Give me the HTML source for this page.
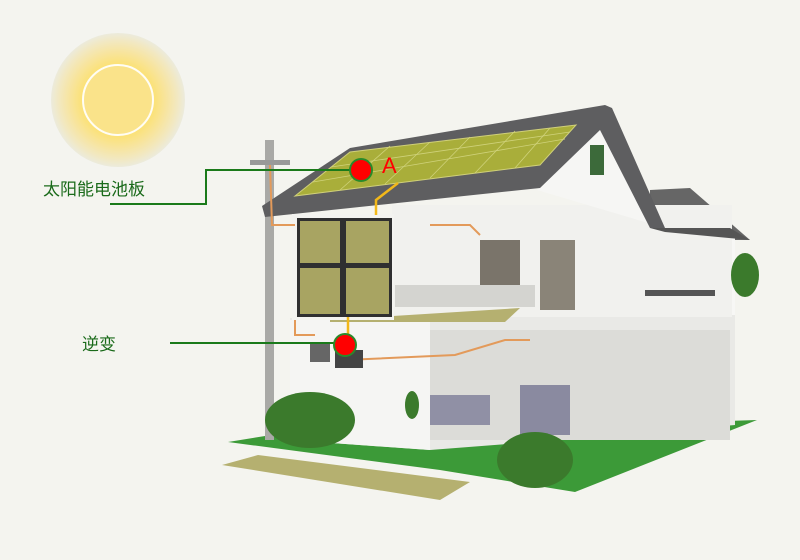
<!DOCTYPE html>
<html><head><meta charset="utf-8"><style>
html,body{margin:0;padding:0;background:#f4f4ef;}
svg{display:block;}
text{font-family:"Liberation Sans","Noto Sans CJK SC",sans-serif;}
</style></head><body>
<svg width="800" height="560" viewBox="0 0 800 560" xmlns="http://www.w3.org/2000/svg">
<defs>
<radialGradient id="sun" cx="0.5" cy="0.5" r="0.5">
<stop offset="0" stop-color="#fbe27a"/><stop offset="0.55" stop-color="#fbe27a"/>
<stop offset="0.7" stop-color="#f8e49a"/><stop offset="0.88" stop-color="#f2e8c0"/><stop offset="1" stop-color="#ecebdc"/>
</radialGradient>
</defs>
<rect width="800" height="560" fill="#f4f4ef"/>
<circle cx="118" cy="100" r="67" fill="url(#sun)"/>
<circle cx="118" cy="100" r="35" fill="#fae38a" stroke="#fffdf4" stroke-width="2"/>
<polygon points="228,442 265,436 757,420 575,492 440,470" fill="#3c9a38"/>
<polygon points="222,465 258,455 470,482 440,500" fill="#b5b070"/>
<rect x="265" y="140" width="9" height="300" fill="#a9a9a6"/>
<rect x="250" y="160" width="40" height="5" fill="#999"/>
<polygon points="650,190 690,188 750,240 650,240" fill="#666"/>
<rect x="650" y="235" width="85" height="80" fill="#f7f7f5"/>
<polygon points="290,318 735,315 735,425 560,440 430,450 290,440" fill="#e9e9e6"/>
<rect x="430" y="330" width="300" height="110" fill="#dcdcd8"/>
<polygon points="290,320 430,320 430,450 290,440" fill="#f5f5f3"/>
<rect x="520" y="385" width="50" height="50" fill="#8a8aa0"/>
<rect x="430" y="395" width="60" height="30" fill="#9090a5"/>
<rect x="392" y="205" width="340" height="112" fill="#f1f1ee"/>
<rect x="480" y="240" width="40" height="50" fill="#7a746a"/>
<rect x="540" y="240" width="35" height="70" fill="#8a8478"/>
<rect x="395" y="285" width="140" height="22" fill="#d4d4d0"/>
<polygon points="330,320 520,308 505,322 330,322" fill="#b5b070"/>
<rect x="645" y="290" width="70" height="6" fill="#555"/>
<polygon points="600,122 537,190 655,225" fill="#f6f6f4"/>
<rect x="590" y="145" width="14" height="30" fill="#3c6a3a"/>
<polygon points="262,206 350,148 605,105 612,108 665,228 650,228 600,130 540,188 265,217" fill="#5e5e60"/>
<polygon points="295,196 350,152 576,125 540,165" fill="#a9ae3a" stroke="#d0d07a" stroke-width="1"/>
<g stroke="#cfd27a" stroke-width="0.8">
<line x1="313" y1="182" x2="565" y2="139"/><line x1="331" y1="167" x2="570" y2="132"/>
<line x1="340" y1="190" x2="390" y2="146"/><line x1="385" y1="184" x2="430" y2="142"/>
<line x1="430" y1="178" x2="470" y2="137"/><line x1="475" y1="173" x2="515" y2="131"/>
<line x1="515" y1="168" x2="550" y2="128"/>
</g>
<polygon points="650,228 730,228 750,240 665,232" fill="#555"/>
<rect x="292" y="214" width="102" height="106" fill="#f3f3f0"/>
<rect x="297" y="218" width="95" height="99" fill="#2f2f30"/>
<rect x="300" y="221" width="40" height="42" fill="#a8a462"/><rect x="346" y="221" width="43" height="42" fill="#a8a462"/>
<rect x="300" y="268" width="40" height="46" fill="#a8a462"/><rect x="346" y="268" width="43" height="46" fill="#a8a462"/>
<g stroke="#e39a5a" stroke-width="2" fill="none">
<polyline points="270,165 272,225 295,225"/>
<polyline points="295,320 295,335 315,335"/>
<polyline points="345,360 455,355 505,340 530,340"/>
<polyline points="430,225 470,225 480,235"/>
</g>
<polyline points="398,183 376,200 376,215" stroke="#f2b81a" stroke-width="2.5" fill="none"/>
<line x1="348" y1="317" x2="348" y2="335" stroke="#f2b81a" stroke-width="2.5"/>
<rect x="310" y="342" width="20" height="20" fill="#666"/>
<rect x="335" y="350" width="28" height="18" fill="#444"/>
<g fill="#3b7a2c">
<ellipse cx="310" cy="420" rx="45" ry="28"/>
<ellipse cx="535" cy="460" rx="38" ry="28"/>
<ellipse cx="745" cy="275" rx="14" ry="22"/>
<ellipse cx="412" cy="405" rx="7" ry="14"/>
</g>
<polyline points="110,204 206,204 206,170 350,170" stroke="#1a7a1a" stroke-width="2" fill="none"/>
<line x1="170" y1="343" x2="335" y2="343" stroke="#1a7a1a" stroke-width="2"/>
<circle cx="361" cy="170" r="11" fill="#f00" stroke="#2a8a2a" stroke-width="2"/>
<circle cx="345" cy="345" r="11" fill="#f00" stroke="#2a8a2a" stroke-width="2"/>
<text x="382" y="173" font-size="22" fill="#f00">A</text>
<text x="43" y="195" font-size="17" fill="#1a6a1a">太阳能电池板</text>
<text x="82" y="350" font-size="17" fill="#1a6a1a">逆变</text>
</svg>
</body></html>
